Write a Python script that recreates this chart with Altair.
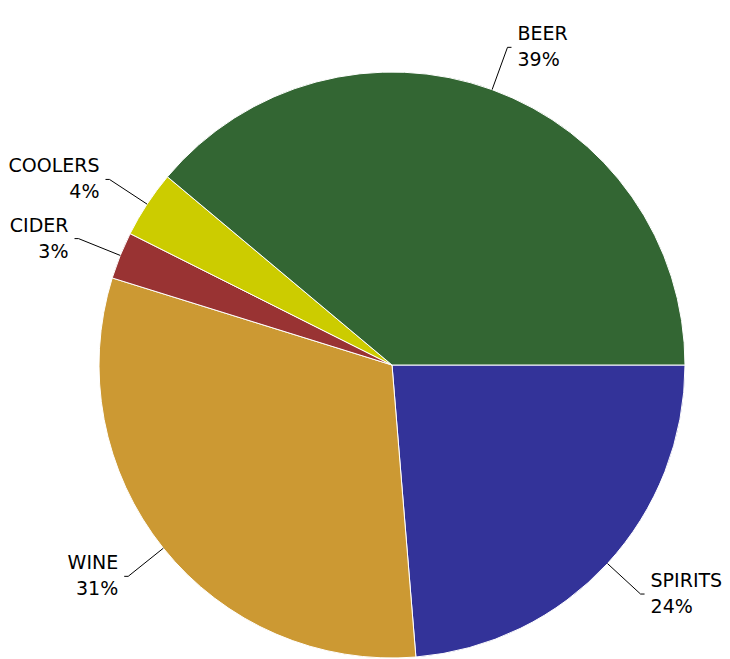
import math
import altair as alt
import pandas as pd

categories = ["SPIRITS", "WINE", "CIDER", "COOLERS", "BEER"]
shares = [23.7, 31.1, 2.6, 3.7, 38.9]
colors = ["#333399", "#CC9933", "#993333", "#CCCC00", "#336633"]

df = pd.DataFrame({"cat": categories, "value": shares, "order": list(range(len(categories)))})

W, H = 714, 651
CX, CY = 384, 357
R = 293
RL = 338

base = alt.Chart(df)

arcs = base.mark_arc(radius=R, stroke="white", strokeWidth=1).encode(
    theta=alt.Theta("value:Q", stack=True,
                    scale=alt.Scale(range=[math.pi / 2, math.pi / 2 + 2 * math.pi])),
    color=alt.Color("cat:N", scale=alt.Scale(domain=categories, range=colors), legend=None),
    order=alt.Order("order:Q"),
    x=alt.value(CX),
    y=alt.value(CY),
)

geo = base.transform_joinaggregate(total="sum(value)").transform_window(
    cum="sum(value)", sort=[alt.SortField("order")], frame=[None, 0]
).transform_calculate(
    a="((datum.cum - datum.value/2) / datum.total) * 2 * PI + PI/2",
).transform_calculate(
    s="sin(datum.a)",
    c="cos(datum.a)",
).transform_calculate(
    x1=f"{CX} + {R} * datum.s",
    y1=f"{CY} - {R} * datum.c",
    x2=f"{CX} + {RL} * datum.s",
    y2=f"{CY} - {RL} * datum.c",
    side="datum.s >= 0 ? 1 : -1",
).transform_calculate(
    x3="datum.x2 + 4 * datum.side",
    xt="datum.x2 + 10 * datum.side",
    label="datum.cat + '\\n' + format(datum.value / datum.total * 100, '.0f') + '%'",
)

leader = geo.mark_rule(color="black", strokeWidth=1).encode(
    x=alt.X("x1:Q", scale=None), y=alt.Y("y1:Q", scale=None),
    x2="x2:Q", y2="y2:Q",
)
hook = geo.mark_rule(color="black", strokeWidth=1).encode(
    x=alt.X("x2:Q", scale=None), y=alt.Y("y2:Q", scale=None),
    x2="x3:Q",
)

text_kw = dict(font="DejaVu Sans", fontSize=19, lineBreak="\n", lineHeight=26,
               baseline="middle", color="black", dy=-13)
right_text = geo.transform_filter("datum.side > 0").mark_text(align="left", **text_kw).encode(
    x=alt.X("xt:Q", scale=None), y=alt.Y("y2:Q", scale=None), text="label:N",
)
left_text = geo.transform_filter("datum.side < 0").mark_text(align="right", **text_kw).encode(
    x=alt.X("xt:Q", scale=None), y=alt.Y("y2:Q", scale=None), text="label:N",
)

chart = alt.layer(arcs, leader, hook, right_text, left_text).properties(
    width=W, height=H, padding=0, autosize=alt.AutoSizeParams(type="none")
).configure_view(stroke=None)

chart.save("out.html", embed_options={"renderer": "svg", "actions": False})
